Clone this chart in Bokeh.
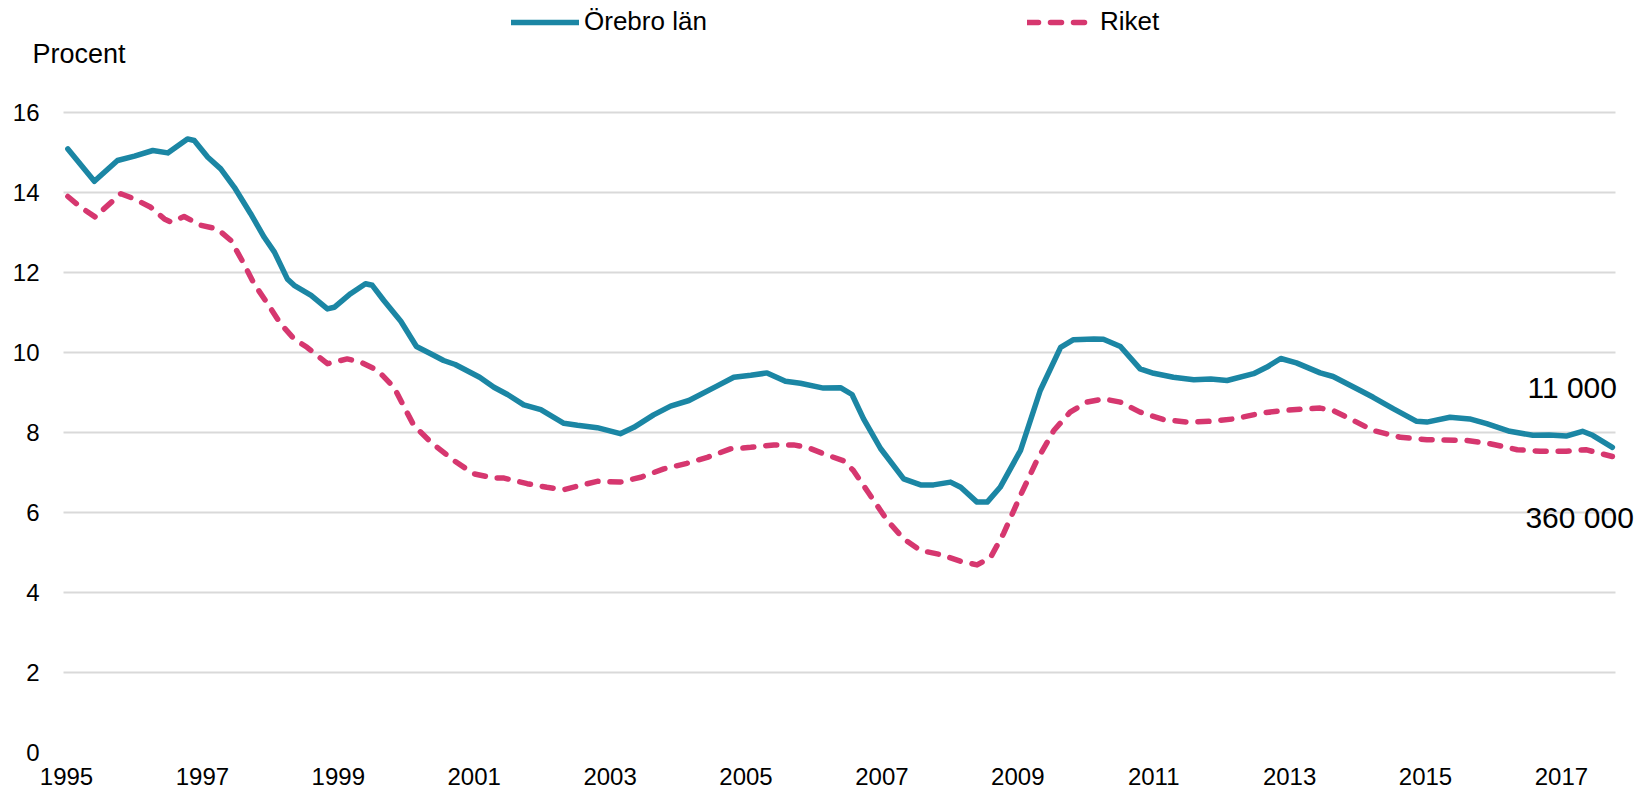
from bokeh.plotting import figure
from bokeh.models import (Range1d, FixedTicker, Label, Legend, LegendItem)
from bokeh.embed import file_html
from bokeh.resources import INLINE

# ---- data ----
orebro_x = [1995.02, 1995.41, 1995.75, 1996.00, 1996.27, 1996.49, 1996.78, 1996.88,
            1997.08, 1997.27, 1997.47, 1997.71, 1997.91, 1998.06, 1998.25, 1998.35,
            1998.60, 1998.84, 1998.94, 1999.18, 1999.40, 1999.50, 1999.67, 1999.92,
            2000.15, 2000.36, 2000.55, 2000.72, 2001.08, 2001.29, 2001.49, 2001.73,
            2001.98, 2002.32, 2002.52, 2002.81, 2003.15, 2003.35, 2003.64, 2003.89,
            2004.16, 2004.57, 2004.82, 2005.07, 2005.31, 2005.58, 2005.80, 2006.14,
            2006.39, 2006.56, 2006.73, 2006.98, 2007.32, 2007.57, 2007.76, 2008.01,
            2008.16, 2008.40, 2008.55, 2008.74, 2009.04, 2009.33, 2009.63, 2009.82,
            2010.12, 2010.26, 2010.51, 2010.80, 2011.00, 2011.29, 2011.59, 2011.84,
            2012.08, 2012.47, 2012.66, 2012.87, 2013.10, 2013.45, 2013.64, 2014.04,
            2014.23, 2014.53, 2014.87, 2015.02, 2015.36, 2015.65, 2015.90, 2016.24,
            2016.58, 2016.82, 2017.07, 2017.31, 2017.46, 2017.75]
orebro_y = [15.09, 14.28, 14.80, 14.91, 15.05, 14.99, 15.34, 15.30,
            14.88, 14.59, 14.13, 13.47, 12.88, 12.51, 11.84, 11.68,
            11.43, 11.09, 11.13, 11.47, 11.72, 11.68, 11.30, 10.78,
            10.15, 9.97, 9.80, 9.70, 9.38, 9.13, 8.95, 8.69,
            8.57, 8.23, 8.18, 8.12, 7.97, 8.13, 8.44, 8.66,
            8.80, 9.16, 9.38, 9.43, 9.49, 9.28, 9.23, 9.11,
            9.12, 8.95, 8.34, 7.60, 6.84, 6.69, 6.69, 6.76,
            6.63, 6.26, 6.26, 6.63, 7.55, 9.05, 10.13, 10.32,
            10.34, 10.33, 10.15, 9.59, 9.48, 9.38, 9.32, 9.34,
            9.30, 9.47, 9.63, 9.85, 9.74, 9.49, 9.40, 9.05,
            8.88, 8.59, 8.28, 8.26, 8.38, 8.34, 8.22, 8.03,
            7.93, 7.94, 7.91, 8.03, 7.93, 7.63]

riket_x = [1995.02, 1995.21, 1995.43, 1995.55, 1995.80, 1996.00, 1996.24, 1996.44,
           1996.54, 1996.73, 1996.98, 1997.22, 1997.42, 1997.61, 1997.76, 1997.96,
           1998.15, 1998.35, 1998.54, 1998.84, 1999.13, 1999.33, 1999.58, 1999.82,
           1999.95, 2000.11, 2000.36, 2000.70, 2000.99, 2001.29, 2001.44, 2001.78,
           2002.07, 2002.32, 2002.57, 2002.81, 2003.15, 2003.45, 2003.79, 2004.13,
           2004.43, 2004.77, 2005.07, 2005.41, 2005.70, 2005.90, 2006.14, 2006.44,
           2006.58, 2006.80, 2007.08, 2007.32, 2007.57, 2007.86, 2008.16, 2008.40,
           2008.60, 2008.79, 2009.04, 2009.28, 2009.53, 2009.77, 2010.02, 2010.26,
           2010.51, 2010.80, 2011.15, 2011.49, 2011.84, 2012.18, 2012.60, 2012.98,
           2013.45, 2013.64, 2013.94, 2014.23, 2014.63, 2015.02, 2015.61, 2015.95,
           2016.35, 2016.69, 2017.07, 2017.36, 2017.75]
riket_y = [13.90, 13.63, 13.38, 13.59, 13.97, 13.84, 13.63, 13.34,
           13.26, 13.40, 13.18, 13.09, 12.80, 12.22, 11.72, 11.22,
           10.72, 10.34, 10.13, 9.72, 9.84, 9.76, 9.55, 9.13,
           8.70, 8.18, 7.76, 7.30, 6.97, 6.86, 6.86, 6.72,
           6.63, 6.57, 6.68, 6.78, 6.76, 6.88, 7.09, 7.23,
           7.38, 7.59, 7.63, 7.69, 7.69, 7.63, 7.47, 7.29,
           7.05, 6.50, 5.80, 5.34, 5.05, 4.95, 4.78, 4.69,
           4.88, 5.47, 6.43, 7.30, 8.05, 8.51, 8.76, 8.84,
           8.76, 8.51, 8.32, 8.26, 8.28, 8.34, 8.49, 8.56,
           8.61, 8.55, 8.30, 8.05, 7.88, 7.82, 7.80, 7.72,
           7.57, 7.53, 7.53, 7.57, 7.40]

series_names = ["Örebro län", "Riket"]
series_colors = ["#1b86a4", "#d6376f"]
year_ticks = [1995, 1997, 1999, 2001, 2003, 2005, 2007, 2009, 2011, 2013, 2015, 2017]
year_labels = [str(y) for y in year_ticks]
value_ticks = [0, 2, 4, 6, 8, 10, 12, 14, 16]
y_title = "Procent"
end_labels = ["11 000", "360 000"]

FONT = "Liberation Sans"
PX_PER_YEAR = 67.95
X0 = 1995 - 66 / PX_PER_YEAR           # left edge of the plotting area
X1 = X0 + 1648 / PX_PER_YEAR           # right edge of the plotting area

p = figure(width=1648, height=793, output_backend="svg", toolbar_location=None,
           x_range=Range1d(X0, X1), y_range=Range1d(0, 18.8),
           min_border_left=0, min_border_right=0, min_border_top=0,
           min_border_bottom=41)
p.outline_line_color = None
p.background_fill_color = "white"
p.border_fill_color = "white"

p.xgrid.grid_line_color = None
p.ygrid.grid_line_color = "#d9d9d9"
p.ygrid.grid_line_width = 2
p.ygrid.cross_bounds = (1994.956, 2017.80)

p.yaxis.ticker = FixedTicker(ticks=value_ticks)
p.xaxis.ticker = FixedTicker(ticks=year_ticks)
p.xaxis.major_label_overrides = dict(zip(year_ticks, year_labels))
for ax in (p.xaxis[0], p.yaxis[0]):
    ax.axis_line_color = None
    ax.major_tick_line_color = None
    ax.minor_tick_line_color = None
    ax.major_tick_out = 0
    ax.major_tick_in = 0
    ax.minor_tick_out = 0
    ax.minor_tick_in = 0
    ax.major_label_text_font = FONT
    ax.major_label_text_font_size = "24px"
    ax.major_label_text_color = "#000000"
p.yaxis.major_label_standoff = -39
p.xaxis.major_label_standoff = 15

r1 = p.line(orebro_x, orebro_y, line_color=series_colors[0], line_width=5.5,
            line_join="round", line_cap="round")
r2 = p.line(riket_x, riket_y, line_color=series_colors[1], line_width=5.5,
            line_dash="11 12", line_join="round", line_cap="round")

legend = Legend(items=[LegendItem(label=series_names[0], renderers=[r1]),
                       LegendItem(label=series_names[1], renderers=[r2])],
                orientation="horizontal", location=(511, 715),
                glyph_width=68, glyph_height=26, label_standoff=5,
                label_width=443, spacing=0, padding=0, margin=0,
                border_line_color=None, background_fill_alpha=0,
                label_text_font=FONT, label_text_font_size="26px",
                label_text_color="#000000")
p.add_layout(legend)

p.add_layout(Label(x=1994.50, y=17.46, text=y_title, text_font=FONT,
                   text_font_size="27px", text_color="#000000",
                   text_baseline="alphabetic", text_align="left"))
p.add_layout(Label(x=2016.50, y=9.13, text=end_labels[0], text_font=FONT,
                   text_font_size="30px", text_color="#000000",
                   text_baseline="alphabetic", text_align="left"))
p.add_layout(Label(x=2016.47, y=5.88, text=end_labels[1], text_font=FONT,
                   text_font_size="30px", text_color="#000000",
                   text_baseline="alphabetic", text_align="left"))

open("out.html", "w").write(file_html(p, INLINE))
